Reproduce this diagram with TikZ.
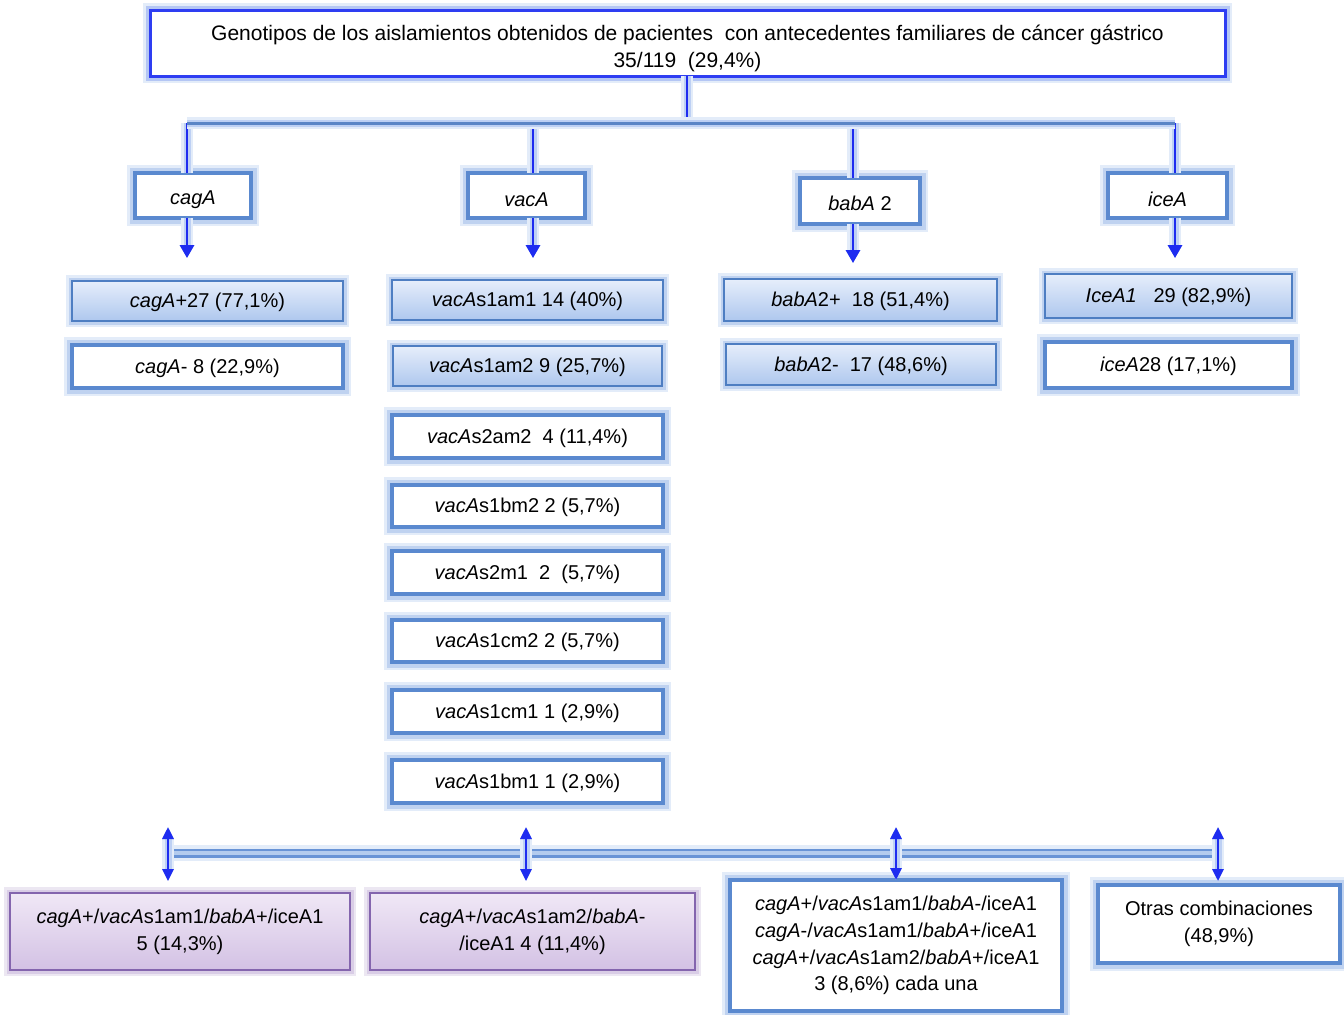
\documentclass[tikz,border=0pt]{standalone}
\usepackage{fontspec}
\setmainfont{Liberation Sans}
\usetikzlibrary{arrows.meta}

\definecolor{titleedge}{HTML}{2E3DF2}
\definecolor{titleglow}{HTML}{B4C6F4}
\definecolor{boxedge}{HTML}{5A89CF}
\definecolor{boxglow}{HTML}{BFD2F0}
\definecolor{haze}{HTML}{E3ECF9}
\definecolor{gradtop}{HTML}{E6EEFB}
\definecolor{gradbot}{HTML}{AEC7EE}
\definecolor{gradedge}{HTML}{4E7EC2}
\definecolor{lilatop}{HTML}{F0E8F6}
\definecolor{lilabot}{HTML}{D3C1E4}
\definecolor{lilaedge}{HTML}{8465AE}
\definecolor{lilaglow}{HTML}{D9CDE6}
\definecolor{lilahaze}{HTML}{ECE7F2}
\definecolor{linkblue}{HTML}{1E2CF0}
\definecolor{linkglow}{HTML}{BDD0F4}
\definecolor{steel}{HTML}{5A85C6}
\definecolor{barmid}{HTML}{6893D6}
\definecolor{barlight}{HTML}{B3CBEE}

% box placed by its corners (pixel grid)
\newcommand\gbox[7]{%
  \node[#1, minimum width={(#5-#3)*0.5pt}, minimum height={(#6-#4)*0.5pt}]
    (#2) at ({(#3+#5)/2},{(#4+#6)/2}) {#7};}
% taller first line, pushes the text a little lower in its box
\newcommand\lowerby[1]{\rule{0pt}{#1}}

\begin{document}
\begin{tikzpicture}[x=0.5pt,y=-0.5pt,
  every node/.style={inner sep=0pt, outer sep=0pt, align=center,
    font=\fontsize{10}{13.4}\selectfont},
  titlebox/.style={draw=titleedge, line width=1.5pt, fill=white,
    preaction={draw=haze, line width=7pt},
    preaction={draw=titleglow, line width=4.5pt},
    font=\fontsize{10.5}{13.5}\selectfont},
  thickbox/.style={draw=boxedge, line width=2.4pt, fill=white,
    preaction={draw=haze, line width=8pt},
    preaction={draw=boxglow, line width=5.5pt}},
  gradbox/.style={draw=gradedge, line width=1pt, top color=gradtop, bottom color=gradbot,
    preaction={draw=haze, line width=6pt},
    preaction={draw=boxglow, line width=3.5pt}},
  lilabox/.style={draw=lilaedge, line width=1.2pt, top color=lilatop, bottom color=lilabot,
    preaction={draw=lilahaze, line width=6pt},
    preaction={draw=lilaglow, line width=3.5pt}},
  link/.style={draw=linkblue, line width=1.4pt,
    preaction={draw=haze, line width=6pt},
    preaction={draw=linkglow, line width=3.5pt}},
  topbar/.style={draw=steel, line width=1.5pt,
    preaction={draw=haze, line width=6pt},
    preaction={draw=linkglow, line width=3.5pt}},
  downarrow/.style={link, -{Triangle[width=7pt,length=6.5pt]}},
  bothways/.style={link, {Triangle[width=5.5pt,length=6pt]}-{Triangle[width=5.5pt,length=6pt]}},
  bar/.style={draw=barlight, line width=1.8pt,
    preaction={draw=haze, line width=8pt},
    preaction={draw=barmid, line width=4.5pt}},
]
\useasboundingbox (0,0) rectangle (1344,1014);

% title
\gbox{titlebox}{title}{150}{10}{1225}{76}{\lowerby{13pt}Genotipos de los aislamientos obtenidos de pacientes\ \ con antecedentes familiares de cáncer gástrico\\35/119\ \ (29,4\%)}

% gene headers
\gbox{thickbox}{cag}{135}{173}{251}{218}{\lowerby{11pt}\textit{cagA}}
\gbox{thickbox}{vac}{468}{173}{585}{218}{\lowerby{11pt}\textit{vacA}}
\gbox{thickbox}{bab}{800}{178}{920}{224}{\lowerby{10pt}\textit{babA} 2}
\gbox{thickbox}{ice}{1108}{173}{1227}{218}{\lowerby{11pt}\textit{iceA}}

% tree junctions
\coordinate (jt) at (687,123);
\coordinate (jcag) at (187,123);
\coordinate (jvac) at (533,123);
\coordinate (jbab) at (853,123);
\coordinate (jice) at (1175,123);

\draw[link] (title.south -| jt) -- (jt);
\draw[link] (jcag) -- (jcag |- cag.north);
\draw[link] (jvac) -- (jvac |- vac.north);
\draw[link] (jbab) -- (jbab |- bab.north);
\draw[link] (jice) -- (jice |- ice.north);
\draw[topbar] (jcag) -- (jice);

% arrow ends below the headers
\coordinate (acag) at (187,258);
\coordinate (avac) at (533,258);
\coordinate (abab) at (853,263);
\coordinate (aice) at (1175,258);
\draw[downarrow] (cag.south -| acag) -- (acag);
\draw[downarrow] (vac.south -| avac) -- (avac);
\draw[downarrow] (bab.south -| abab) -- (abab);
\draw[downarrow] (ice.south -| aice) -- (aice);

% cagA
\gbox{gradbox}{cagp}{72}{281}{343}{321}{\lowerby{9pt}\textit{cagA}+27 (77,1\%)}
\gbox{thickbox}{cagm}{72}{345}{343}{388}{\lowerby{9pt}\textit{cagA}- 8 (22,9\%)}

% vacA
\gbox{gradbox}{v1}{392}{280}{663}{320}{\lowerby{9pt}\textit{vacA}s1am1 14 (40\%)}
\gbox{gradbox}{v2}{393}{346}{662}{386}{\lowerby{9pt}\textit{vacA}s1am2 9 (25,7\%)}
\gbox{thickbox}{v3}{392}{415}{663}{458}{\lowerby{9pt}\textit{vacA}s2am2\ \ 4 (11,4\%)}
\gbox{thickbox}{v4}{392}{485}{663}{527}{\lowerby{9pt}\textit{vacA}s1bm2 2 (5,7\%)}
\gbox{thickbox}{v5}{392}{551}{663}{594}{\lowerby{9pt}\textit{vacA}s2m1\ \ 2\ \ (5,7\%)}
\gbox{thickbox}{v6}{392}{620}{663}{662}{\lowerby{9pt}\textit{vacA}s1cm2 2 (5,7\%)}
\gbox{thickbox}{v7}{392}{690}{663}{733}{\lowerby{9pt}\textit{vacA}s1cm1 1 (2,9\%)}
\gbox{thickbox}{v8}{392}{760}{663}{803}{\lowerby{9pt}\textit{vacA}s1bm1 1 (2,9\%)}

% babA
\gbox{gradbox}{bp}{724}{279}{997}{321}{\lowerby{9pt}\textit{babA}2+\ \ 18 (51,4\%)}
\gbox{gradbox}{bm}{726}{344}{996}{385}{\lowerby{9pt}\textit{babA}2-\ \ 17\ (48,6\%)}

% iceA
\gbox{gradbox}{ip}{1045}{274}{1292}{318}{\lowerby{9pt}\textit{IceA1}\ \ \ 29\ (82,9\%)}
\gbox{thickbox}{im}{1045}{342}{1292}{388}{\lowerby{9pt}\textit{iceA}28 (17,1\%)}

% combinations
\gbox{lilabox}{c1}{10}{893}{350}{970}{\textit{cagA}+/\textit{vacA}s1am1/\textit{babA}+/iceA1\\5 (14,3\%)}
\gbox{lilabox}{c2}{370}{893}{695}{970}{\textit{cagA}+/\textit{vacA}s1am2/\textit{babA}-\\/iceA1 4 (11,4\%)}
\gbox{thickbox}{c3}{730}{880}{1062}{1011}{\textit{cagA}+/\textit{vacA}s1am1/\textit{babA}-/iceA1\\\textit{cagA}-/\textit{vacA}s1am1/\textit{babA}+/iceA1\\\textit{cagA}+/\textit{vacA}s1am2/\textit{babA}+/iceA1\\3 (8,6\%)\ cada una}
\gbox{thickbox}{c4}{1098}{885}{1340}{963}{Otras combinaciones\\(48,9\%)}

% lower bar and double arrows
\coordinate (bl) at (168,853);
\coordinate (br) at (1218,853);
\draw[bar] (bl) -- (br);
\coordinate (t1) at (168,827);
\coordinate (t2) at (526,827);
\coordinate (t3) at (896,827);
\coordinate (t4) at (1218,827);
\draw[bothways] (t1) -- ([yshift=6pt]t1 |- c1.north);
\draw[bothways] (t2) -- ([yshift=6pt]t2 |- c2.north);
\draw[bothways] (t3) -- ([yshift=0pt]t3 |- c3.north);
\draw[bothways] (t4) -- ([yshift=2pt]t4 |- c4.north);
\end{tikzpicture}
\end{document}
